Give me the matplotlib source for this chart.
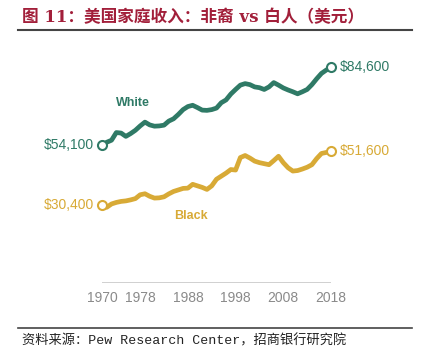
import matplotlib
matplotlib.use("Agg")
from matplotlib import pyplot as plt
from matplotlib.lines import Line2D

years = list(range(1970, 2019))

# median household income, thousands of dollars
white = [54.1, 55.2, 56.0, 59.0, 58.8, 57.5, 58.6, 59.9, 61.6, 63.1,
         62.0, 61.5, 61.6, 61.9, 63.5, 64.4, 66.1, 68.0, 69.2, 69.7,
         68.8, 67.8, 67.7, 68.0, 68.6, 70.7, 71.8, 74.1, 75.9, 77.6,
         78.2, 77.8, 76.9, 76.6, 75.9, 76.9, 78.6, 77.6, 76.5, 75.7,
         75.0, 74.2, 75.0, 75.9, 77.8, 80.1, 82.2, 83.5, 84.6]
black = [30.4, 29.7, 31.0, 31.6, 32.0, 32.2, 32.6, 33.1, 34.6, 35.0,
         34.0, 33.3, 33.4, 33.8, 34.95, 35.9, 36.5, 37.1, 37.2, 38.7,
         38.1, 37.5, 36.7, 38.1, 40.7, 41.9, 43.1, 44.5, 44.3, 49.2,
         50.0, 49.0, 47.8, 47.2, 46.8, 46.4, 48.0, 49.7, 47.2, 45.2,
         43.9, 44.1, 44.7, 45.4, 46.4, 48.8, 50.8, 51.2, 51.6]

xticks = [1970, 1978, 1988, 1998, 2008, 2018]
start_labels = ["$54,100", "$30,400"]
end_labels = ["$84,600", "$51,600"]

green = "#2f7a66"
gold = "#d8aa36"
title_red = "#a21f3a"

fig = plt.figure(figsize=(4.24, 3.59), dpi=100)
fig.patch.set_facecolor("white")

# title and rules
fig.text(22 / 424, 1 - 18 / 359, "图 11：美国家庭收入：非裔 vs 白人（美元）",
         family=["DejaVu Serif", "Noto Sans CJK SC"], fontsize=12, fontweight="bold",
         color=title_red, va="center", ha="left")
fig.add_artist(Line2D([18 / 424, 412 / 424], [1 - 30 / 359, 1 - 30 / 359],
                      color="#444444", linewidth=1.5))
fig.add_artist(Line2D([18 / 424, 412 / 424], [1 - 328 / 359, 1 - 328 / 359],
                      color="#444444", linewidth=1.2))
fig.text(22 / 424, 1 - 341 / 359, "资料来源：Pew Research Center，招商银行研究院",
         family=["Liberation Mono", "Noto Sans CJK SC"], fontsize=9.5,
         color="#222222", va="center", ha="left")

ax = fig.add_axes([102 / 424, 1 - 283 / 359, 229 / 424, 243 / 359])
ax.set_xlim(1970, 2018)
ax.set_ylim(0, 95.3)

for series, color, s_lab, e_lab in [(white, green, start_labels[0], end_labels[0]),
                                    (black, gold, start_labels[1], end_labels[1])]:
    ax.plot(years, series, color=color, linewidth=3.4, solid_capstyle="round",
            solid_joinstyle="round", zorder=3)
    ax.plot([years[0], years[-1]], [series[0], series[-1]], linestyle="none",
            marker="o", markersize=6.5, markerfacecolor="white",
            markeredgecolor=color, markeredgewidth=1.5, clip_on=False, zorder=4)
    ax.annotate(s_lab, (years[0], series[0]), xytext=(-6, 0), textcoords="offset points",
                ha="right", va="center", fontsize=10, color=color,
                family="Liberation Sans", annotation_clip=False)
    ax.annotate(e_lab, (years[-1], series[-1]), xytext=(6, 0), textcoords="offset points",
                ha="left", va="center", fontsize=10, color=color,
                family="Liberation Sans", annotation_clip=False)

ax.text(1976.4, 70.7, "White", color=green, fontsize=9, fontweight="bold",
        family="Liberation Sans", ha="center", va="center")
ax.text(1988.6, 26.3, "Black", color=gold, fontsize=9, fontweight="bold",
        family="Liberation Sans", ha="center", va="center")

ax.axhline(0, color="#c8c8c8", linewidth=1.2, zorder=1)
for side in ["top", "right", "left", "bottom"]:
    ax.spines[side].set_visible(False)
ax.set_yticks([])
ax.set_xticks(xticks)
ax.set_xticklabels([str(t) for t in xticks], family="Liberation Sans",
                   fontsize=10, color="#8a8a8a")
ax.tick_params(axis="x", length=0, pad=5.5)
ax.patch.set_alpha(0)

fig.savefig("out.png", dpi=100)
